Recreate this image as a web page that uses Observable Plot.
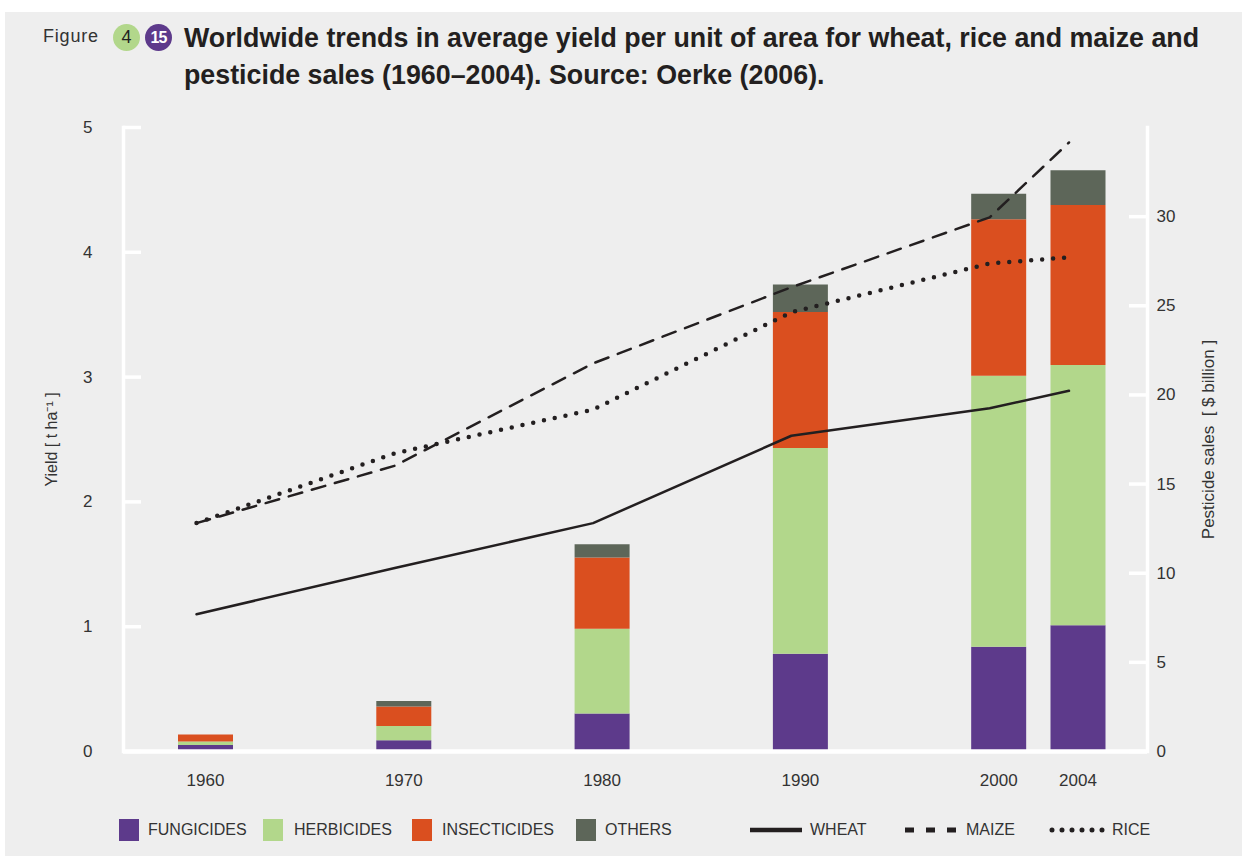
<!DOCTYPE html>
<html>
<head>
<meta charset="utf-8">
<script src="https://cdn.jsdelivr.net/npm/d3@7"></script>
<script src="https://cdn.jsdelivr.net/npm/@observablehq/plot@0.6"></script>
<style>
  body { margin: 0; width: 1242px; height: 856px; background: #fff; position: relative; overflow: hidden;
         font-family: "Liberation Sans", Arial, sans-serif; color: #333; }
  #panel { position: absolute; left: 5px; top: 12px; right: 0; bottom: 0; background: #eeeeee; }
  #figword { position: absolute; left: 43px; top: 26px; font-size: 18px; letter-spacing: 0.8px; color: #333; }
  .badge { position: absolute; top: 24px; width: 27px; height: 27px; border-radius: 50%; text-align: center;
           line-height: 27px; }
  #b4 { left: 113px; background: #b2d78b; color: #222; font-size: 18px; }
  #b15 { left: 145px; background: #5d3a8b; color: #fff; font-size: 16px; font-weight: bold; letter-spacing: -1px; }
  #title { position: absolute; left: 184px; top: 20px; font-size: 26.8px; line-height: 36.7px; font-weight: bold;
           color: #231f20; white-space: nowrap; }
  #chart { position: absolute; left: 0; top: 100px; }
  .leg { position: absolute; top: 819px; height: 22px; line-height: 22px; font-size: 16px; color: #333; white-space: nowrap; }
  .sw { position: absolute; top: 819px; width: 20px; height: 22px; }
  .lsvg { position: absolute; top: 819px; height: 22px; }
</style>
</head>
<body>
<div id="panel"></div>
<div id="figword">Figure</div>
<div class="badge" id="b4">4</div>
<div class="badge" id="b15">15</div>
<div id="title">Worldwide trends in average yield per unit of area for wheat, rice and maize and<br>pesticide sales (1960–2004). Source: Oerke (2006).</div>
<div id="chart"></div>
<div id="legend"></div>
<script>
// ---- data ----
const years = [1960, 1970, 1980, 1990, 2000, 2004];
// pesticide sales, $ billion
const fungicides   = [0.33, 0.6, 2.1, 5.45, 5.85, 7.05];
const herbicides   = [0.2, 0.8, 4.75, 11.55, 15.2, 14.6];
const insecticides = [0.4, 1.1, 4.0, 7.62, 8.78, 8.97];
const others       = [0.0, 0.3, 0.75, 1.55, 1.42, 1.96];
// yield, t/ha
const wheat = [1.10, 1.47, 1.83, 2.53, 2.75, 2.89];
const maize = [1.83, 2.29, 3.11, 3.72, 4.28, 4.88];
const rice  = [1.83, 2.39, 2.74, 3.52, 3.91, 3.96];
// axes
const yieldTicks = [0, 1, 2, 3, 4, 5];
const salesTicks = [0, 5, 10, 15, 20, 25, 30];
const yearTicks = [1960, 1970, 1980, 1990, 2000, 2004];
const categories = ["FUNGICIDES", "HERBICIDES", "INSECTICIDES", "OTHERS"];
const catColors = ["#5d3a8b", "#b2d78b", "#da4f1f", "#5d6659"];
const crops = ["WHEAT", "MAIZE", "RICE"];

// ---- build tables ----
const SALES_PER_YIELD = 7; // 35 $bn on right axis spans same height as 5 t/ha
const salesSeries = [fungicides, herbicides, insecticides, others];
const barData = years.flatMap((yr, i) => categories.map((c, j) => ({year: yr, type: c, value: salesSeries[j][i]})));
const lineData = years.map((yr, i) => ({year: yr, wheat: wheat[i], maize: maize[i], rice: rice[i]}));
const salesTicksY = salesTicks.map(v => v / SALES_PER_YIELD);
const ink = "#231f20";
const FRAME_W = 1242 - 123 - 95;
const TICK_LEN = 18;

const chart = Plot.plot({
  width: 1242,
  height: 700,
  marginTop: 27,
  marginBottom: 49,
  marginLeft: 123,
  marginRight: 95,
  x: {domain: [1960, 2004], range: [196, 1068.5], label: null},
  y: {domain: [0, 5], label: null},
  color: {domain: categories, range: catColors},
  style: {fontFamily: "'Liberation Sans', Arial, sans-serif", fontSize: "17px", color: "#333", background: "transparent", overflow: "visible"},
  marks: [
    // stacked pesticide bars (right axis scale)
    Plot.ruleX(barData, Plot.stackY({x: "year", y: d => d.value / SALES_PER_YIELD, stroke: "type", strokeWidth: 55, dx: 9})),
    // axis lines
    Plot.ruleY([0], {stroke: "white", strokeWidth: 4.5}),
    Plot.frame({anchor: "left", stroke: "white", strokeWidth: 3.5}),
    Plot.frame({anchor: "right", stroke: "white", strokeWidth: 3.5}),
    // inward tick marks
    Plot.tickY(yieldTicks, {y: d => d, insetRight: FRAME_W - TICK_LEN, stroke: "white", strokeWidth: 3.5}),
    Plot.tickY(salesTicksY, {y: d => d, insetLeft: FRAME_W - TICK_LEN, stroke: "white", strokeWidth: 3.5}),
    // labels
    Plot.axisY({anchor: "left", ticks: yieldTicks, tickFormat: d => String(d), tickSize: 0, tickPadding: 31, fontSize: 17, fill: "#333", label: null}),
    Plot.axisY({anchor: "right", ticks: salesTicksY, tickFormat: d => String(Math.round(d * SALES_PER_YIELD)), tickSize: 0, tickPadding: 9, fontSize: 17, fill: "#333", label: null}),
    Plot.axisX({ticks: yearTicks, tickFormat: d => String(d), tickSize: 0, tickPadding: 22, dx: 9, fontSize: 17, fill: "#333", label: null}),
    // yield lines
    Plot.line(lineData, {x: "year", y: "wheat", stroke: ink, strokeWidth: 2.5}),
    Plot.line(lineData, {x: "year", y: "maize", stroke: ink, strokeWidth: 2.5, strokeDasharray: "14,10"}),
    Plot.line(lineData, {x: "year", y: "rice", stroke: ink, strokeWidth: 4.5, strokeDasharray: "0,11", strokeLinecap: "round"}),
    // axis titles
    Plot.text(["Yield\u00a0[\u00a0t\u00a0ha⁻¹\u00a0]"], {frameAnchor: "left", rotate: -90, dx: -72, textAnchor: "middle", fontSize: 16, fill: "#333"}),
    Plot.text(["Pesticide sales\u00a0\u00a0[ $ billion ]"], {frameAnchor: "right", rotate: -90, dx: 61, textAnchor: "middle", fontSize: 17, fill: "#333"})
  ]
});
document.getElementById("chart").appendChild(chart);

// ---- legend ----
const legend = document.getElementById("legend");
const swX = [119, 263, 412, 576];
const txX = [148, 294, 442, 605];
categories.forEach((c, i) => {
  const s = document.createElement("div");
  s.className = "sw"; s.style.left = swX[i] + "px"; s.style.background = catColors[i];
  legend.appendChild(s);
  const t = document.createElement("div");
  t.className = "leg"; t.style.left = txX[i] + "px"; t.textContent = c;
  legend.appendChild(t);
});
const lineX = [750, 905, 1049];
const lineW = [52, 54, 58];
const lineTx = [810, 966, 1112];
const lineStyles = [
  {dash: null, w: 4.5, cap: "butt"},
  {dash: "9,12", w: 5, cap: "butt"},
  {dash: "0,10", w: 5, cap: "round"}
];
crops.forEach((c, i) => {
  const ns = "http://www.w3.org/2000/svg";
  const svg = document.createElementNS(ns, "svg");
  svg.setAttribute("class", "lsvg");
  svg.setAttribute("width", lineW[i]); svg.setAttribute("height", 22);
  svg.style.left = lineX[i] + "px";
  const l = document.createElementNS(ns, "line");
  const st = lineStyles[i];
  const pad = st.cap === "round" ? 3 : 0;
  l.setAttribute("x1", pad); l.setAttribute("x2", lineW[i] - pad);
  l.setAttribute("y1", 11); l.setAttribute("y2", 11);
  l.setAttribute("stroke", ink); l.setAttribute("stroke-width", st.w);
  l.setAttribute("stroke-linecap", st.cap);
  if (st.dash) l.setAttribute("stroke-dasharray", st.dash);
  svg.appendChild(l);
  legend.appendChild(svg);
  const t = document.createElement("div");
  t.className = "leg"; t.style.left = lineTx[i] + "px"; t.textContent = c;
  legend.appendChild(t);
});
</script>
</body>
</html>
